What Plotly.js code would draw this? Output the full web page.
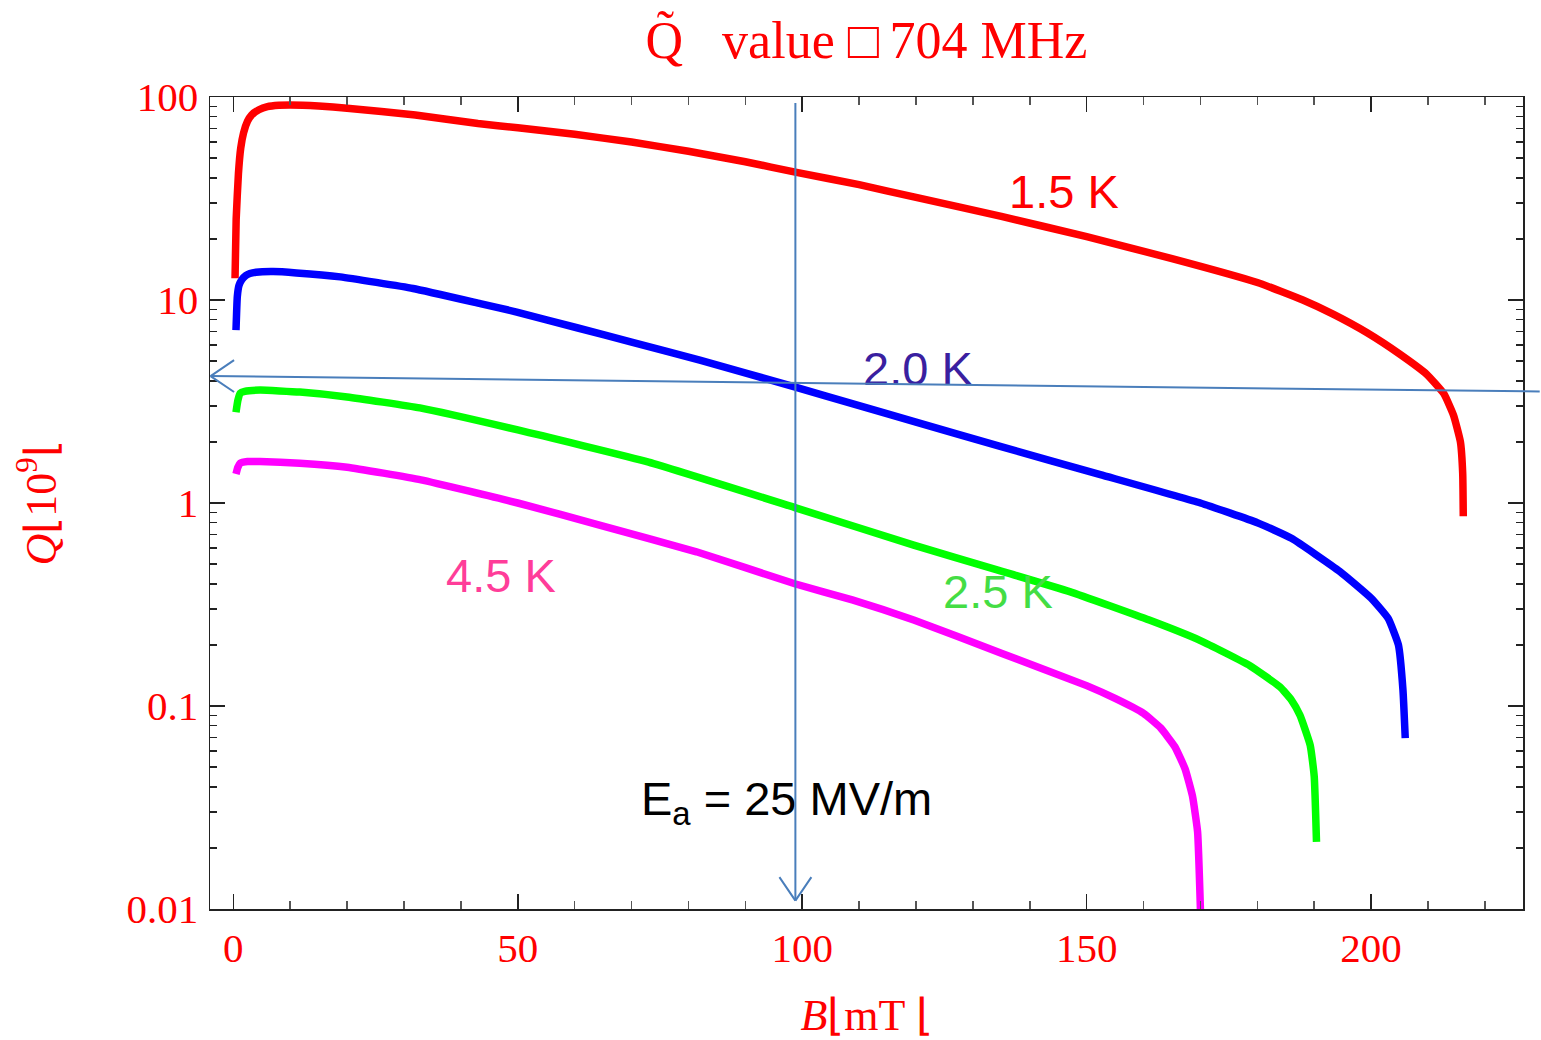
<!DOCTYPE html>
<html><head><meta charset="utf-8">
<script src="https://cdn.plot.ly/plotly-3.0.1.min.js"></script>
<style>html,body{margin:0;padding:0;background:#fff}#chart{width:1541px;height:1040px}</style>
</head><body><div id="chart"></div>
<script>
// ---- data (B in mT, Q in units of 10^9) ----
const B_15 = [0.3, 0.5, 0.9, 1.3, 1.8, 2.5, 3.2, 4.5, 6, 8, 10, 15, 20, 32, 43, 50, 60, 70, 80, 90, 99, 110, 120, 135, 150, 165, 180, 188, 193.4, 199.3, 205.1, 209.8, 212.8, 214.5, 215.7, 216.1, 216.2];
const Q_15 = [12.8, 25, 42, 56, 66.6, 76, 81.5, 86.5, 89.6, 91, 91.4, 90.3, 88, 81.5, 74, 70.5, 65.5, 60, 54, 48, 42.5, 37, 32, 25.8, 20.5, 16, 12.2, 10.0, 8.5, 6.9, 5.4, 4.3, 3.45, 2.7, 2.0, 1.4, 0.86];

const B_20 = [0.47, 0.7, 1.0, 1.5, 2.2, 2.9, 4, 7, 11.1, 18.8, 31.6, 43.4, 50, 60.4, 70, 82, 98.5, 110, 120, 134.8, 152.4, 170, 180, 186, 194.5, 200, 203, 204.8, 205.6, 206];
const Q_20 = [7.1, 10.4, 11.8, 12.6, 13.2, 13.5, 13.7, 13.8, 13.6, 13.0, 11.4, 9.6, 8.7, 7.3, 6.2, 5.06, 3.74, 3.02, 2.5, 1.9, 1.38, 1.0, 0.8, 0.67, 0.46, 0.34, 0.27, 0.2, 0.12, 0.0695];

const B_25 = [0.47, 0.8, 1.2, 2, 4.7, 11.7, 20, 32.8, 50, 73, 99, 119.6, 134.4, 147, 161, 170, 178.7, 184, 186, 187.5, 189.3, 190, 190.4];
const Q_25 = [2.8, 3.2, 3.47, 3.55, 3.6, 3.52, 3.33, 2.94, 2.29, 1.59, 0.944, 0.62, 0.467, 0.366, 0.265, 0.21, 0.158, 0.124, 0.107, 0.09, 0.064, 0.045, 0.0214];

const B_45 = [0.47, 0.8, 1.2, 2.5, 4.7, 11.7, 20, 33, 50, 65, 81.4, 98.7, 108.8, 119.6, 135, 150, 155, 160, 163, 165.5, 167.3, 168.6, 169.5, 170];
const Q_45 = [1.39, 1.5, 1.57, 1.6, 1.6, 1.57, 1.5, 1.30, 1.0, 0.77, 0.575, 0.40, 0.333, 0.265, 0.182, 0.126, 0.109, 0.092, 0.078, 0.063, 0.049, 0.036, 0.024, 0.0099];

const seriesX = [B_15, B_20, B_25, B_45];
const seriesY = [Q_15, Q_20, Q_25, Q_45];
const seriesNames = ['1.5 K', '2.0 K', '2.5 K', '4.5 K'];
const seriesColors = ['#ff0000', '#0000ff', '#00ff00', '#ff00ff'];

// curve labels
const labelText = ['1.5 K', '2.0 K', '2.5 K', '4.5 K'];
const labelColors = ['#ff0000', '#3a1fa0', '#44dd44', '#ff3d99'];
const labelB = [146, 120.4, 134.4, 47.1];
const labelQ = [34.4, 4.62, 0.365, 0.44];

// field annotation
const fieldText = 'E<sub>a</sub> = 25 MV/m';
const fieldB = 71.3, fieldQ = 0.0335;

// arrows: [headB, headQ, tailB, tailQ]
const arrowV = [98.8, 0.0110, 98.8, 95];
const arrowH = [-4, 4.22, 229.9, 3.54];

// ticks
const xTickVals = [0, 50, 100, 150, 200];
const xTickText = ['0', '50', '100', '150', '200'];
const xMinorVals = [10, 20, 30, 40, 60, 70, 80, 90, 110, 120, 130, 140, 160, 170, 180, 190, 210, 220];
const yTickVals = [0.01, 0.1, 1, 10, 100];
const yTickText = ['0.01', '0.1', '1', '10', '100'];
const yMinorDigits = [2, 3, 4, 5, 6, 7, 8, 9];

const yMinorVals = [];
yTickVals.slice(0, -1).forEach(d => yMinorDigits.forEach(k => yMinorVals.push(d * k)));

const traces = seriesX.map((xs, i) => ({
  x: xs, y: seriesY[i], name: seriesNames[i], type: 'scatter', mode: 'lines',
  line: {color: seriesColors[i], width: 7.5, shape: 'spline', smoothing: 0.4},
  hoverinfo: 'skip'
}));

const serif = 'Liberation Serif, Times New Roman, serif';
const sans = 'Liberation Sans, Arial, sans-serif';
const lg = Math.log10;
const arrowColor = '#4a7ebb';

const annotations = labelText.map((t, i) => ({
  x: labelB[i], y: lg(labelQ[i]), xref: 'x', yref: 'y', text: t, showarrow: false,
  font: {family: sans, size: 47, color: labelColors[i]}, xanchor: 'center', yanchor: 'middle'
}));
annotations.push({
  x: fieldB, y: lg(fieldQ), xref: 'x', yref: 'y', text: fieldText, showarrow: false,
  font: {family: sans, size: 47, color: '#000'}, xanchor: 'left', yanchor: 'middle'
});
// arrow shafts
[arrowV, arrowH].forEach(a => annotations.push({
  x: a[0], y: lg(a[1]), ax: a[2], ay: lg(a[3]), xref: 'x', yref: 'y', axref: 'x', ayref: 'y',
  text: '', showarrow: true, arrowhead: 0, arrowwidth: 2, arrowcolor: arrowColor, standoff: 0, startstandoff: 0
}));
// open chevron heads (arm offsets in pixels)
const chevrons = [
  {head: arrowV, arms: [[-17, -25], [17, -25]]},
  {head: arrowH, arms: [[25, -17], [25, 17]]}
];
chevrons.forEach(c => c.arms.forEach(arm => annotations.push({
  x: c.head[0], y: lg(c.head[1]), xref: 'x', yref: 'y', axref: 'pixel', ayref: 'pixel',
  ax: arm[0], ay: arm[1], text: '', showarrow: true, arrowhead: 0, arrowwidth: 2,
  arrowcolor: arrowColor, standoff: 0, startstandoff: 0
})));

const tickFont = {family: serif, size: 41, color: '#ff0000'};
const layout = {
  width: 1541, height: 1040,
  margin: {l: 210, r: 18, t: 97, b: 131},
  paper_bgcolor: '#fff', plot_bgcolor: '#fff',
  showlegend: false,
  title: {
    text: 'Q\u0303\u00a0\u00a0 value \u25a1\u2009704 MHz',
    font: {family: serif, size: 52, color: '#ff0000'},
    x: 0.5, xref: 'paper', xanchor: 'center', y: 0.962, yref: 'container', yanchor: 'middle'
  },
  xaxis: {
    range: [-4.1, 226.7], showgrid: false, zeroline: false,
    showline: true, linecolor: '#222', linewidth: 1.5, mirror: 'ticks',
    ticks: 'inside', ticklen: 15, tickwidth: 1.5, tickcolor: '#222',
    tickmode: 'array', tickvals: xTickVals, ticktext: xTickText,
    tickfont: tickFont, ticklabelstandoff: 2,
    minor: {tickmode: 'array', tickvals: xMinorVals, ticks: 'inside', ticklen: 8, tickwidth: 1.5, tickcolor: '#555', showgrid: false},
    title: {text: '<i>B</i>\u230amT \u230a', font: {family: serif, size: 44, color: '#ff0000'}, standoff: 30}
  },
  yaxis: {
    type: 'log', range: [-2, 2], showgrid: false, zeroline: false,
    showline: true, linecolor: '#222', linewidth: 1.5, mirror: 'ticks',
    ticks: 'inside', ticklen: 15, tickwidth: 1.5, tickcolor: '#222',
    tickmode: 'array', tickvals: yTickVals, ticktext: yTickText,
    tickfont: tickFont, ticklabelstandoff: 2,
    minor: {tickmode: 'array', tickvals: yMinorVals, ticks: 'inside', ticklen: 7, tickwidth: 1.5, tickcolor: '#222', showgrid: false},
    title: {text: '<i>Q</i>\u230a10<sup>9</sup>\u230a', font: {family: serif, size: 44, color: '#ff0000'}, standoff: 56}
  },
  annotations: annotations
};

Plotly.newPlot('chart', traces, layout, {displayModeBar: false, staticPlot: true});
</script>
</body></html>
